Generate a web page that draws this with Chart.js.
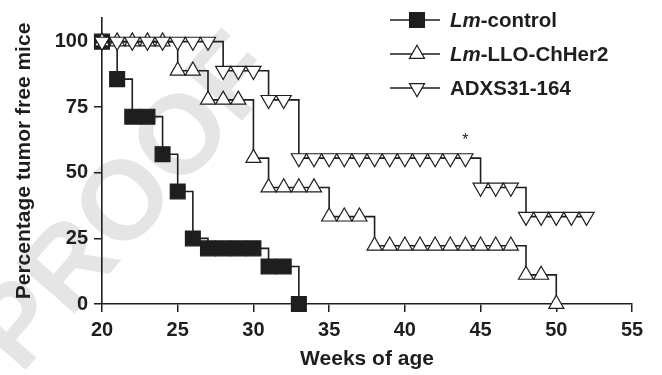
<!DOCTYPE html>
<html>
<head>
<meta charset="utf-8">
<script src="https://cdn.jsdelivr.net/npm/chart.js@4.4.1/dist/chart.umd.min.js"></script>
<style>
  html, body { margin: 0; padding: 0; background: #fff; }
  #wrap { position: relative; width: 662px; height: 375px; }
</style>
</head>
<body>
<div id="wrap"><canvas id="survivalChart"></canvas></div>
<script>
// Percentage tumor free mice by week of age
const seriesNames = ['Lm-control', 'Lm-LLO-ChHer2', 'ADXS31-164'];

const controlWeeks = [20, 21, 22, 23, 24, 25, 26, 27, 28, 29, 30, 31, 32, 33];
const controlPct = [100, 85.7, 71.4, 71.4, 57.1, 42.9, 25, 21.2, 21.2, 21.2, 21.2, 14.3, 14.3, 0];

const lloWeeks = [20, 21, 22, 23, 24, 25, 26, 27, 28, 29, 30, 31, 32, 33, 34, 35,
                  36, 37, 38, 39, 40, 41, 42, 43, 44, 45, 46, 47, 48, 49, 50];
const lloPct = [100, 100, 100, 100, 100, 88.9, 88.9, 77.8, 77.8, 77.8, 55.6, 44.4, 44.4, 44.4, 44.4, 33.3,
                33.3, 33.3, 22.2, 22.2, 22.2, 22.2, 22.2, 22.2, 22.2, 22.2, 22.2, 22.2, 11.1, 11.1, 0];

const adxsWeeks = [20, 21, 22, 23, 24, 25, 26, 27, 28, 29, 30, 31, 32, 33, 34, 35, 36,
                   37, 38, 39, 40, 41, 42, 43, 44, 45, 46, 47, 48, 49, 50, 51, 52];
const adxsPct = [100, 100, 100, 100, 100, 100, 100, 100, 88.9, 88.9, 88.9, 77.8, 77.8, 55.6, 55.6, 55.6, 55.6,
                 55.6, 55.6, 55.6, 55.6, 55.6, 55.6, 55.6, 55.6, 44.4, 44.4, 44.4, 33.3, 33.3, 33.3, 33.3, 33.3];

const xTicks = [20, 25, 30, 35, 40, 45, 50, 55];
const yTicks = [0, 25, 50, 75, 100];
const starWeek = 44; // significance mark over ADXS31-164

const ink = '#1e1e1e';
const fontFamily = '"Liberation Sans", Arial, Helvetica, sans-serif';

function toPoints(xs, ys) {
  return xs.map((x, i) => ({ x: x, y: ys[i] }));
}

// draw one marker the same way chart.js does it
function marker(ctx, style, x, y, r, rot, fill) {
  ctx.save();
  ctx.beginPath();
  if (style === 'rect') {
    const s = r * Math.SQRT1_2;
    ctx.rect(x - s, y - s, 2 * s, 2 * s);
  } else {
    let rad = rot * Math.PI / 180;
    for (let k = 0; k < 3; k++) {
      const px = x + Math.sin(rad) * r, py = y - Math.cos(rad) * r;
      if (k === 0) ctx.moveTo(px, py); else ctx.lineTo(px, py);
      rad += 2 * Math.PI / 3;
    }
    ctx.closePath();
  }
  ctx.fillStyle = fill;
  ctx.strokeStyle = ink;
  ctx.lineWidth = 1.2;
  ctx.fill();
  ctx.stroke();
  ctx.restore();
}

const extras = {
  id: 'extras',
  beforeDraw(chart) {
    const ctx = chart.ctx;
    ctx.save();
    ctx.fillStyle = '#fff';
    ctx.fillRect(0, 0, chart.width, chart.height);
    // faint PROOF watermark
    ctx.translate(128, 205);
    ctx.rotate(-49 * Math.PI / 180);
    ctx.font = 'bold 112px ' + fontFamily;
    ctx.fillStyle = '#e5e5e5';
    ctx.textAlign = 'center';
    ctx.textBaseline = 'middle';
    ctx.fillText('PROOF', 0, 0);
    ctx.restore();
  },
  afterDraw(chart) {
    const ctx = chart.ctx;
    const xs = chart.scales.x, ys = chart.scales.y;
    ctx.save();
    // asterisk
    ctx.fillStyle = ink;
    ctx.font = '16px ' + fontFamily;
    ctx.textAlign = 'center';
    ctx.textBaseline = 'middle';
    ctx.fillText('*', xs.getPixelForValue(starWeek), ys.getPixelForValue(55.6) - 18);

    // legend
    const rows = [20, 54, 88];
    chart.data.datasets.forEach((ds, i) => {
      const y = rows[i];
      ctx.strokeStyle = ink;
      ctx.lineWidth = 1.5;
      ctx.beginPath();
      ctx.moveTo(390, y);
      ctx.lineTo(440, y);
      ctx.stroke();
      marker(ctx, ds.pointStyle, 417, y, ds.pointRadius, ds.pointRotation || 0, ds.pointBackgroundColor);
      let tx = 450;
      const label = ds.label;
      ctx.fillStyle = ink;
      ctx.textAlign = 'left';
      ctx.textBaseline = 'alphabetic';
      if (label.startsWith('Lm')) {
        ctx.font = 'italic bold 20.5px ' + fontFamily;
        ctx.fillText('Lm', tx, y + 7);
        tx += ctx.measureText('Lm').width;
        ctx.font = 'bold 20.5px ' + fontFamily;
        ctx.fillText(label.slice(2), tx, y + 7);
      } else {
        ctx.font = 'bold 20.5px ' + fontFamily;
        ctx.fillText(label, tx, y + 7);
      }
    });
    ctx.restore();
  }
};

const common = {
  borderColor: ink,
  borderWidth: 1.6,
  stepped: 'before',
  pointBorderColor: ink,
  pointBorderWidth: 1.2,
  pointHoverRadius: 0,
  clip: false,
  fill: false
};

const ctx = document.getElementById('survivalChart').getContext('2d');
new Chart(ctx, {
  type: 'line',
  data: {
    datasets: [
      Object.assign({}, common, {
        label: seriesNames[0],
        data: toPoints(controlWeeks, controlPct),
        pointStyle: 'rect',
        pointRadius: 10.5,
        pointBackgroundColor: ink,
        order: 3
      }),
      Object.assign({}, common, {
        label: seriesNames[1],
        data: toPoints(lloWeeks, lloPct),
        pointStyle: 'triangle',
        pointRadius: 8.7,
        pointRotation: 0,
        pointBackgroundColor: '#fff',
        order: 2
      }),
      Object.assign({}, common, {
        label: seriesNames[2],
        data: toPoints(adxsWeeks, adxsPct),
        pointStyle: 'triangle',
        pointRadius: 8.7,
        pointRotation: 180,
        pointBackgroundColor: '#fff',
        order: 1
      })
    ]
  },
  options: {
    responsive: true,
    maintainAspectRatio: false,
    animation: false,
    layout: { padding: { top: 7, right: 30, left: 0, bottom: 0 } },
    plugins: { legend: { display: false }, tooltip: { enabled: false } },
    scales: {
      x: {
        type: 'linear',
        min: 20,
        max: 55,
        afterBuildTicks: s => { s.ticks = xTicks.map(v => ({ value: v })); },
        afterFit: s => { s.height = 71; },
        ticks: { color: ink, padding: 6, maxRotation: 0, font: { family: fontFamily, size: 20, weight: 'bold' } },
        grid: { drawOnChartArea: false, drawTicks: true, tickLength: 8, color: ink, lineWidth: 1.5 },
        border: { display: true, color: ink, width: 1.6 },
        title: { display: true, text: 'Weeks of age', color: ink, padding: { top: 0, bottom: 3 },
                 font: { family: fontFamily, size: 21, weight: 'bold' } }
      },
      y: {
        min: 0,
        max: 109,
        afterBuildTicks: s => { s.ticks = yTicks.map(v => ({ value: v })); },
        afterFit: s => { s.width = 102; },
        ticks: { color: ink, padding: 6, font: { family: fontFamily, size: 20, weight: 'bold' } },
        grid: { drawOnChartArea: false, drawTicks: true, tickLength: 8, color: ink, lineWidth: 1.5 },
        border: { display: true, color: ink, width: 1.6 },
        title: { display: true, text: 'Percentage tumor free mice', color: ink, padding: { top: 12, bottom: 0 },
                 font: { family: fontFamily, size: 21, weight: 'bold' } }
      }
    }
  },
  plugins: [extras]
});
</script>
</body>
</html>
